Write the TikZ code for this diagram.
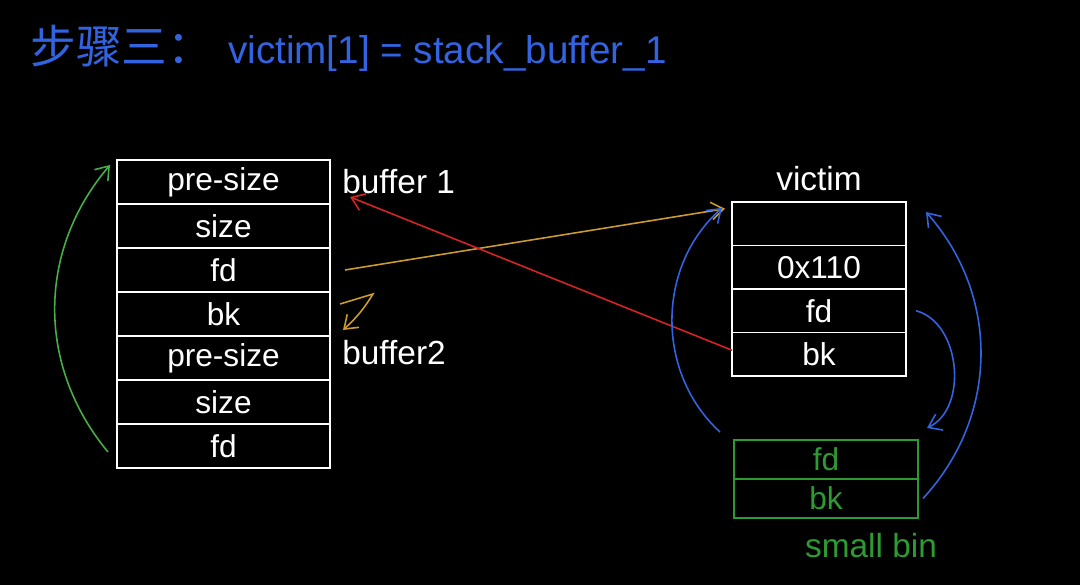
\documentclass[tikz,border=0pt]{standalone}
\usepackage{fontspec}
\setmainfont{Liberation Sans}
\newfontfamily\cjkfont{Noto Sans CJK SC}
\usetikzlibrary{arrows.meta, positioning, calc}
\definecolor{penblue}{RGB}{50,100,225}
\definecolor{pengreen}{RGB}{45,155,50}
\definecolor{penlime}{RGB}{70,175,70}
\definecolor{pengold}{RGB}{205,155,45}
\definecolor{penred}{RGB}{215,35,35}
\tikzset{
  cell/.style  = {draw=white, line width=1pt, text=white, inner sep=0pt, outer sep=0pt,
                  font=\fontsize{18}{20}\selectfont,
                  minimum height=0.88cm, minimum width=4.26cm},
  vcell/.style = {cell, minimum height=0.87cm, minimum width=3.48cm},
  bcell/.style = {cell, draw=pengreen, text=pengreen, minimum height=0.78cm, minimum width=3.68cm},
  lbl/.style   = {text=white, inner sep=0pt, font=\fontsize{19}{21}\selectfont},
  title/.style = {text=penblue, inner sep=0pt, font=\fontsize{22}{24}\selectfont},
  arr/.style   = {-{Straight Barb[length=7pt, width=10pt]}, line width=0.9pt}
}

\begin{document}
\begin{tikzpicture}

  \fill[black] (0,0) rectangle (21.6,11.7);

  % ── title ─────────────────────────────────────────────────────────────────
  \node[title, anchor=west] (T) at (0.6,10.74)
       {{\cjkfont\fontsize{26}{28}\selectfont 步骤三：}\hspace{0.3cm}victim[1] = stack\_buffer\_1};

  % ── stack buffers (left) ──────────────────────────────────────────────────
  \node[cell]                  (L1) at (4.47,8.06) {pre-size};
  \node[cell, below=0pt of L1] (L2) {size};
  \node[cell, below=0pt of L2] (L3) {fd};
  \node[cell, below=0pt of L3] (L4) {bk};
  \node[cell, below=0pt of L4] (L5) {pre-size};
  \node[cell, below=0pt of L5] (L6) {size};
  \node[cell, below=0pt of L6] (L7) {fd};

  \node[lbl, right=0.24cm of L1]              (buf1) {buffer 1};
  \node[lbl, right=0.24cm of L5, yshift=3pt]  (buf2) {buffer2};

  % ── victim chunk (right) ──────────────────────────────────────────────────
  \node[vcell]                  (V1) at (16.38,7.225) {};
  \node[vcell, below=0pt of V1] (V2) {0x110};
  \node[vcell, below=0pt of V2] (V3) {fd};
  \node[vcell, below=0pt of V3] (V4) {bk};
  \node[lbl, above=0.22cm of V1] (vic) {victim};

  % ── small bin ─────────────────────────────────────────────────────────────
  \node[bcell]                  (S1) at (16.52,2.51) {fd};
  \node[bcell, below=0pt of S1] (S2) {bk};
  \node[lbl, text=pengreen, below=0.3cm of S2, xshift=0.9cm] (sbin) {small bin};

  % ── connections ───────────────────────────────────────────────────────────
  % buffer2 -> buffer1
  \draw[arr, penlime] ([shift={(-0.18,0.32)}]L7.south west)
        to[bend left=40] ([shift={(-0.14,-0.1)}]L1.north west);

  % buffer1 fd -> victim, buffer1 bk -> buffer2
  \draw[arr, pengold] ([xshift=0.3cm]L3.east) -- ([shift={(-0.14,0.3)}]V1.west);
  \draw[arr, pengold] ([shift={(0.2,0.2)}]L4.east) -- ([shift={(0.86,0.4)}]L4.east)
        to[bend left=8] ([shift={(0.26,-0.32)}]L4.east);

  % victim bk -> buffer1
  \draw[arr, penred] ([yshift=0.08cm]V4.west) -- ([shift={(0.4,-0.3)}]L1.east);

  % victim <-> small bin
  \draw[arr, penblue] ([shift={(-0.28,0.16)}]S1.north west)
        to[bend left=48] ([shift={(-0.2,-0.12)}]V1.north west);
  \draw[arr, penblue] ([xshift=0.1cm]S2.east)
        to[bend right=42] ([shift={(0.4,-0.2)}]V1.north east);
  \draw[arr, penblue] ([xshift=0.2cm]V3.east)
        to[bend left=70] ([shift={(0.18,0.24)}]S1.north east);

\end{tikzpicture}
\end{document}
